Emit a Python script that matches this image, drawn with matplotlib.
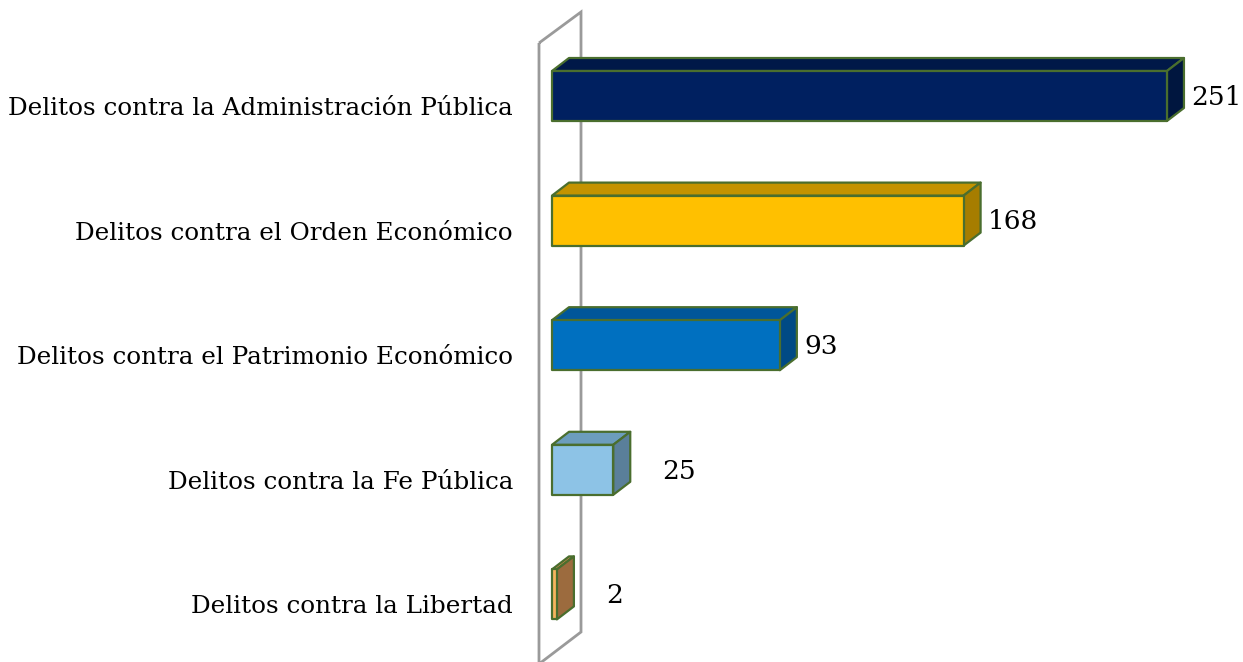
import matplotlib.pyplot as plt
from matplotlib.patches import Polygon

categories = ['Delitos contra la Administración Pública',
              'Delitos contra el Orden Económico',
              'Delitos contra el Patrimonio Económico',
              'Delitos contra la Fe Pública',
              'Delitos contra la Libertad']
values = [251, 168, 93, 25, 2]

# front, top, side colours per bar
FRONT = ['#002060', '#FFC000', '#0070C0', '#8DC3E6', '#F7B45E']
TOP = ['#001848', '#C49300', '#00569A', '#6C9DBD', '#C9894A']
SIDE = ['#00163F', '#A67D00', '#004A85', '#5A7F9A', '#9C6B3E']
EDGE = '#4A6E2E'

W, H = 1243, 662
fig = plt.figure(figsize=(W / 100, H / 100), dpi=100)
ax = fig.add_axes([0, 0, 1, 1])

# pixel layout -> data scale
X0 = 552          # pixel x of value 0
PX_PER = 2.45     # pixels per unit
Y0 = 96           # pixel y of first bar centre
STEP = 124.6      # pixels between bars
ax.set_xlim(-X0 / PX_PER, (W - X0) / PX_PER)
ax.set_ylim((H - Y0) / STEP, -Y0 / STEP)
ax.axis('off')


def px(x, y):
    return ((x - X0) / PX_PER, (y - Y0) / STEP)


# 3d depth, in pixels
DX, DY = 17, 13
dx = DX / PX_PER
dy = DY / STEP
bh = 50 / STEP

# back wall
wall = [px(X0 - 13, 43), px(X0 + 29, 12), px(X0 + 29, 632), px(X0 - 13, 664)]
ax.add_patch(Polygon(wall, closed=True, fill=False, ec='#9A9A9A', lw=2, zorder=1))

for i, (cat, v) in enumerate(zip(categories, values)):
    y0, y1 = i - bh / 2, i + bh / 2
    front = [(0, y0), (v, y0), (v, y1), (0, y1)]
    top = [(0, y0), (dx, y0 - dy), (v + dx, y0 - dy), (v, y0)]
    side = [(v, y0), (v + dx, y0 - dy), (v + dx, y1 - dy), (v, y1)]
    for pts, c in [(top, TOP[i]), (side, SIDE[i]), (front, FRONT[i])]:
        ax.add_patch(Polygon(pts, closed=True, fc=c, ec=EDGE, lw=1.6,
                             joinstyle='round', zorder=3))
    ax.text(-39 / PX_PER, i + 0.10, cat, ha='right', va='center',
            family='DejaVu Serif', fontsize=17.7, color='black')
    lx = v + 10 if v > 50 else v + 20
    ax.text(lx, i + 0.01, str(v), ha='left', va='center',
            family='DejaVu Serif', fontsize=19, color='black')

fig.savefig('out.png', dpi=100)
